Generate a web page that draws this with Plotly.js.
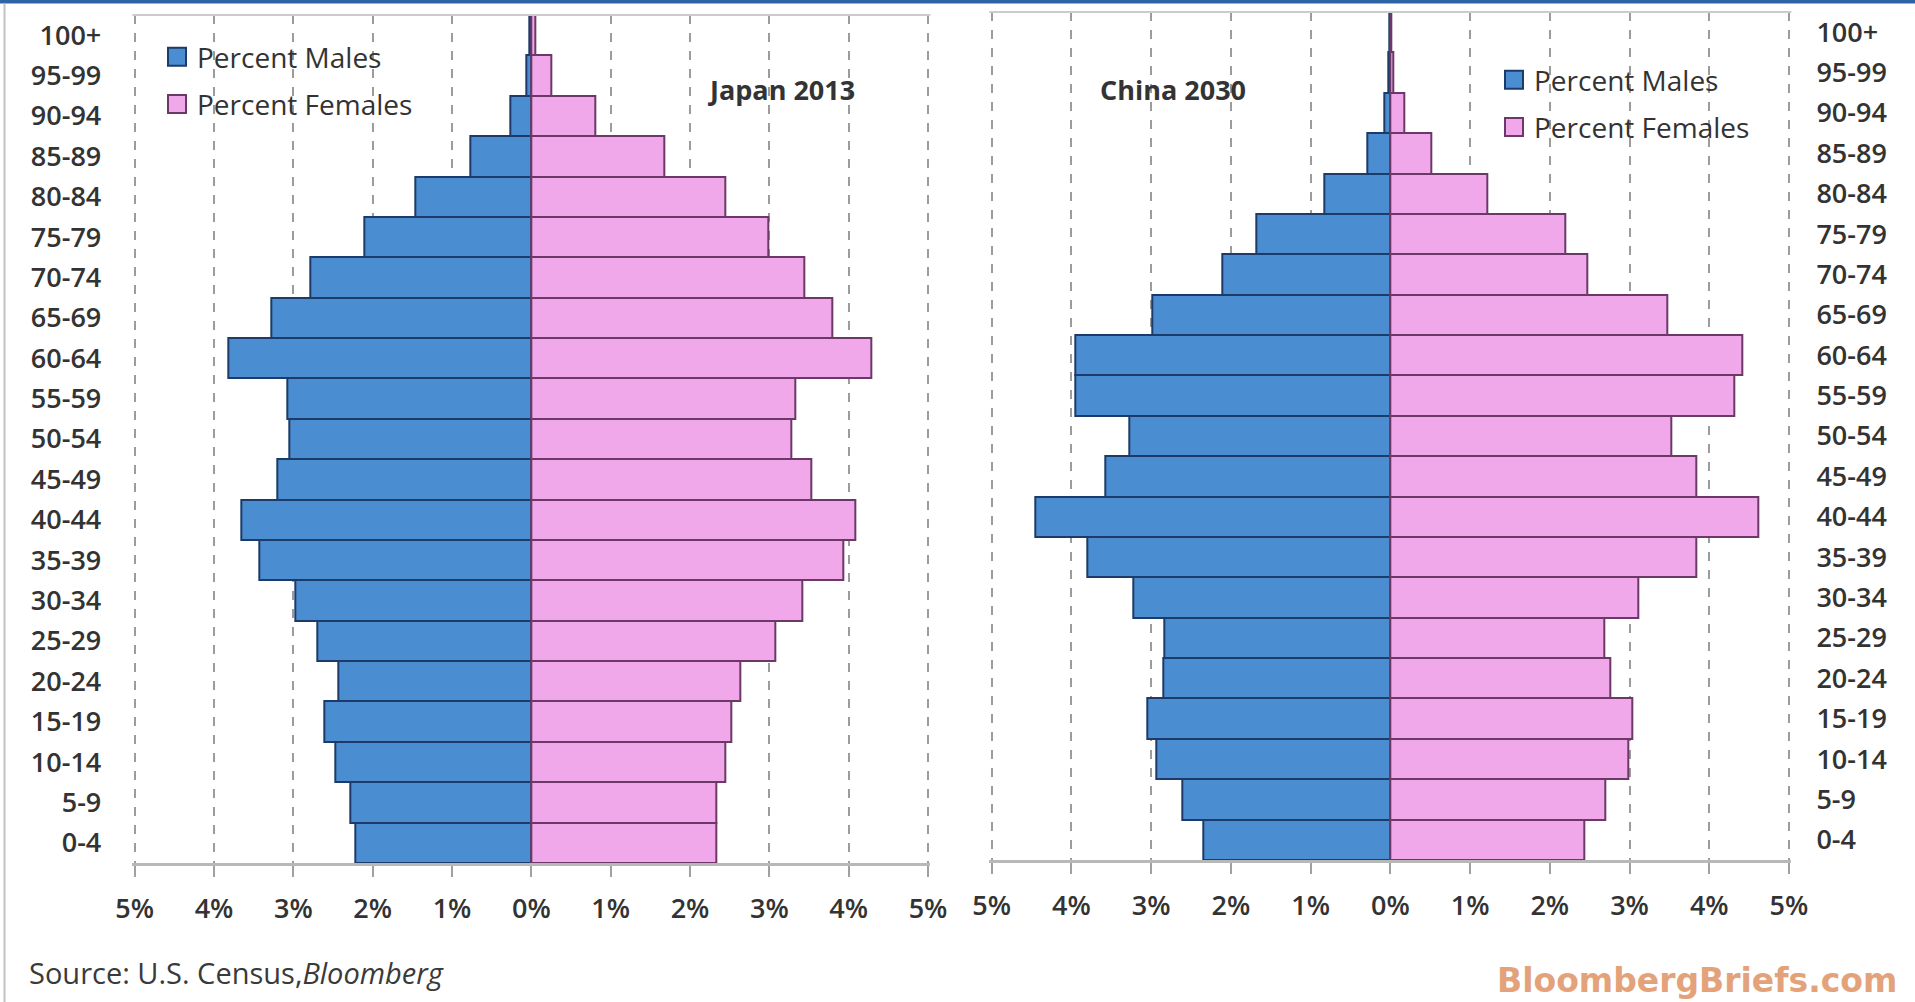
<!DOCTYPE html>
<html>
<head>
<meta charset="utf-8">
<script src="https://cdn.plot.ly/plotly-3.0.1.min.js"></script>
<style>
  html, body { margin: 0; padding: 0; background: #ffffff; }
  #chart { width: 1915px; height: 1002px; }
</style>
</head>
<body>
<div id="chart"></div>
<script>
// Five-year age groups, youngest first
const ageGroups = ['0-4', '5-9', '10-14', '15-19', '20-24', '25-29', '30-34', '35-39',
  '40-44', '45-49', '50-54', '55-59', '60-64', '65-69', '70-74', '75-79', '80-84',
  '85-89', '90-94', '95-99', '100+'];

// Share of total population (%) in each age group
const japanMales   = [2.22, 2.28, 2.47, 2.61, 2.43, 2.70, 2.97, 3.43, 3.66, 3.20, 3.05,
  3.08, 3.82, 3.28, 2.78, 2.10, 1.46, 0.77, 0.26, 0.06, 0.03];
const japanFemales = [2.33, 2.33, 2.45, 2.52, 2.64, 3.08, 3.42, 3.93, 4.09, 3.53, 3.28,
  3.33, 4.29, 3.79, 3.44, 2.99, 2.45, 1.67, 0.81, 0.25, 0.05];
const chinaMales   = [2.34, 2.61, 2.93, 3.05, 2.85, 2.84, 3.22, 3.80, 4.45, 3.58, 3.28,
  3.95, 3.95, 2.99, 2.11, 1.68, 0.83, 0.29, 0.08, 0.02, 0.01];
const chinaFemales = [2.43, 2.70, 2.98, 3.03, 2.76, 2.68, 3.11, 3.84, 4.62, 3.84, 3.52,
  4.32, 4.42, 3.47, 2.47, 2.20, 1.22, 0.51, 0.18, 0.04, 0.01];

// Percent axis: males plotted to the left of zero, females to the right
const pctTickVals = [-5, -4, -3, -2, -1, 0, 1, 2, 3, 4, 5];
const pctTickText = ['5%', '4%', '3%', '2%', '1%', '0%', '1%', '2%', '3%', '4%', '5%'];

const seriesNames = ['Percent Males', 'Percent Females'];
const chartTitles = ['Japan 2013', 'China 2030'];
const sourceNote = 'Source: U.S. Census,<i>Bloomberg</i>';
const brandNote = 'BloombergBriefs.com';

const W = 1915, H = 1002;
const px = v => v / W;          // horizontal pixel -> paper fraction
const py = v => 1 - v / H;      // vertical pixel (from top) -> paper fraction

const maleFill = '#4a8dd0', maleEdge = '#1d3b68';
const femaleFill = '#f0a8ea', femaleEdge = '#6b3868';
const textColor = '#333333';
const FONT = 'Open Sans, Liberation Sans, sans-serif';

// small overshoot so the dashed 5% gridlines at both edges are kept
const PAD = 0.03;

function bars(values, left, name, fill, edge, xa, ya, legendId, group) {
  return {
    type: 'bar',
    orientation: 'h',
    y: ageGroups,
    x: left ? values.map(v => -v) : values,
    name: name,
    legend: legendId,
    legendgroup: group,
    xaxis: xa,
    yaxis: ya,
    marker: { color: fill, line: { color: edge, width: 2 } },
    hoverinfo: 'y+name'
  };
}

const traces = [
  bars(japanMales, true, seriesNames[0], maleFill, maleEdge, 'x', 'y', 'legend', 'jm'),
  bars(japanFemales, false, seriesNames[1], femaleFill, femaleEdge, 'x', 'y', 'legend', 'jf'),
  bars(chinaMales, true, seriesNames[0], maleFill, maleEdge, 'x2', 'y2', 'legend2', 'cm'),
  bars(chinaFemales, false, seriesNames[1], femaleFill, femaleEdge, 'x2', 'y2', 'legend2', 'cf')
];

function pctAxis(left, right, anchor) {
  const unit = (right - left) / 10;
  return {
    domain: [px(left - PAD * unit), px(right + PAD * unit)],
    anchor: anchor,
    range: [-5 - PAD, 5 + PAD],
    tickmode: 'array',
    tickvals: pctTickVals,
    ticktext: pctTickText,
    showgrid: true,
    gridcolor: '#9c9c9c',
    griddash: 'dash',
    gridwidth: 1.5,
    zeroline: false,
    showline: true,
    linecolor: '#b8b8b8',
    linewidth: 3,
    ticks: 'outside',
    ticklen: 11,
    tickwidth: 1.5,
    tickcolor: '#a0a0a0',
    ticklabelstandoff: 9,
    tickfont: { family: FONT, size: 27, color: textColor, weight: 600 },
    fixedrange: true
  };
}

function ageAxis(domain, anchor, side, standoff) {
  return {
    domain: domain,
    anchor: anchor,
    side: side,
    type: 'category',
    showgrid: false,
    zeroline: false,
    showline: false,
    ticks: '',
    ticklabelstandoff: standoff,
    tickfont: { family: FONT, size: 27, color: textColor, weight: 600 },
    fixedrange: true
  };
}

const legendStyle = (x, y) => ({
  x: x, y: y, xanchor: 'left', yanchor: 'top',
  bgcolor: 'rgba(0,0,0,0)',
  font: { family: FONT, size: 28, color: textColor, weight: 500 },
  traceorder: 'grouped',
  tracegroupgap: 8
});

const layout = {
  width: W,
  height: H,
  margin: { l: 0, r: 0, t: 0, b: 0 },
  paper_bgcolor: '#ffffff',
  plot_bgcolor: '#ffffff',
  barmode: 'relative',
  bargap: 0,
  font: { family: FONT, color: textColor },
  showlegend: true,
  xaxis: pctAxis(134.7, 928, 'y'),
  yaxis: ageAxis([py(863), py(15)], 'x', 'left', 30),
  xaxis2: pctAxis(991.7, 1789, 'y2'),
  yaxis2: ageAxis([py(860), py(12)], 'x2', 'right', 24),
  legend: legendStyle(px(157), py(32)),
  legend2: legendStyle(px(1494), py(55)),
  shapes: [
    // top border of each plot frame
    { type: 'line', xref: 'x domain', yref: 'y domain', x0: 0, x1: 1, y0: 1, y1: 1,
      line: { color: '#cccccc', width: 2 } },
    { type: 'line', xref: 'x2 domain', yref: 'y2 domain', x0: 0, x1: 1, y0: 1, y1: 1,
      line: { color: '#cccccc', width: 2 } },
    // page frame: blue band on top, thin grey rule on the left
    { type: 'rect', xref: 'paper', yref: 'paper', x0: 0, x1: 1, y0: py(3.5), y1: 1,
      fillcolor: '#2e66a5', line: { width: 0 } },
    { type: 'line', xref: 'paper', yref: 'paper', x0: px(4.5), x1: px(4.5), y0: 0, y1: py(3.5),
      line: { color: '#c2c2c2', width: 2 } }
  ],
  annotations: [
    { text: '<b>' + chartTitles[0] + '</b>', xref: 'paper', yref: 'paper',
      x: px(781), y: py(89), xanchor: 'center', yanchor: 'middle', showarrow: false,
      font: { family: FONT, size: 27, color: textColor } },
    { text: '<b>' + chartTitles[1] + '</b>', xref: 'paper', yref: 'paper',
      x: px(1173), y: py(89), xanchor: 'center', yanchor: 'middle', showarrow: false,
      font: { family: FONT, size: 27, color: textColor } },
    { text: sourceNote, xref: 'paper', yref: 'paper',
      x: px(27), y: py(972), xanchor: 'left', yanchor: 'middle', showarrow: false,
      font: { family: FONT, size: 29, color: '#3a3a3a', weight: 500 } },
    { text: brandNote, xref: 'paper', yref: 'paper',
      x: px(1899), y: py(980), xanchor: 'right', yanchor: 'middle', showarrow: false,
      font: { family: 'DejaVu Sans, sans-serif', size: 33, color: '#e3a27a', weight: 700 } }
  ]
};

Plotly.newPlot('chart', traces, layout, { displayModeBar: false, responsive: false })
  .then(gd => {
    // larger square legend swatches
    gd.querySelectorAll('.legendpoints path').forEach(p => {
      p.setAttribute('d', 'M9,9H-9V-9H9Z');
    });
  });
</script>
</body>
</html>
